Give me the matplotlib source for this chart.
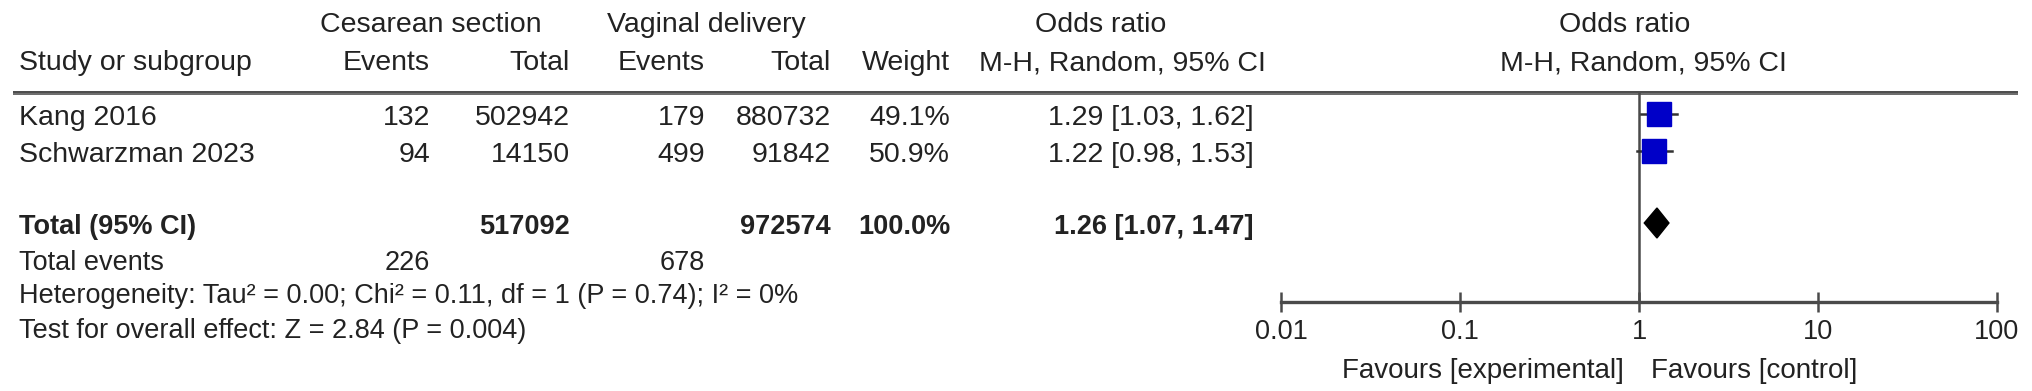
import matplotlib
matplotlib.use("Agg")
import matplotlib.pyplot as plt

# ---------------- data ----------------
studies = ["Kang 2016", "Schwarzman 2023"]
cs_events = [132, 94]
cs_total = [502942, 14150]
vd_events = [179, 499]
vd_total = [880732, 91842]
weights = [49.1, 50.9]
or_est = [1.29, 1.22]
or_lo = [1.03, 0.98]
or_hi = [1.62, 1.53]

total_cs = 517092
total_vd = 972574
total_weight = 100.0
pooled_est, pooled_lo, pooled_hi = 1.26, 1.07, 1.47
total_events_cs = 226
total_events_vd = 678
het_text = "Heterogeneity: Tau\u00b2 = 0.00; Chi\u00b2 = 0.11, df = 1 (P = 0.74); I\u00b2 = 0%"
test_text = "Test for overall effect: Z = 2.84 (P = 0.004)"

tick_values = [0.01, 0.1, 1, 10, 100]
tick_labels = ["0.01", "0.1", "1", "10", "100"]
favours_left = "Favours [experimental]"
favours_right = "Favours [control]"

# ---------------- layout ----------------
W, H = 2032, 391
plt.rcParams['font.family'] = ['Liberation Sans', 'DejaVu Sans']
TXT = '#222222'
LINE = '#4a4a4a'
FS = 20.5
FS_B = 19.5

fig = plt.figure(figsize=(W / 100, H / 100), dpi=100)
ax = fig.add_axes([0, 0, 1, 1])
ax.set_xlim(0, W)
ax.set_ylim(H, 0)
ax.axis('off')

def t(x, y, s, ha='left', size=FS, weight='normal'):
    ax.text(x, y, s, ha=ha, va='center', fontsize=size, color=TXT, fontweight=weight)

# column right edges
x_cse, x_cst, x_vde, x_vdt, x_w, x_or = 430, 570, 705, 831, 950, 1254
x_left = 19

# headers
y_h1, y_h2 = 25, 63
t(431, y_h1, "Cesarean section", ha='center')
t(706, y_h1, "Vaginal delivery", ha='center')
t(1101, y_h1, "Odds ratio", ha='center')
t(1625, y_h1, "Odds ratio", ha='center')
t(x_left, y_h2, "Study or subgroup")
t(x_cse, y_h2, "Events", ha='right')
t(x_cst, y_h2, "Total", ha='right')
t(x_vde, y_h2, "Events", ha='right')
t(x_vdt, y_h2, "Total", ha='right')
t(x_w, y_h2, "Weight", ha='right')
t(1122, y_h2, "M-H, Random, 95% CI", ha='center')
t(1643, y_h2, "M-H, Random, 95% CI", ha='center')

# header rule (double rule look)
y_line = 93
ax.plot([13, 2018], [y_line - 1, y_line - 1], color=LINE, lw=1.4, solid_capstyle='butt')
ax.plot([13, 2018], [y_line + 1.2, y_line + 1.2], color='#6a6a6a', lw=1.4, solid_capstyle='butt')

# study rows
row_y = [118, 155]
for i, yy in enumerate(row_y):
    t(x_left, yy, studies[i])
    t(x_cse, yy, f"{cs_events[i]}", ha='right')
    t(x_cst, yy, f"{cs_total[i]}", ha='right')
    t(x_vde, yy, f"{vd_events[i]}", ha='right')
    t(x_vdt, yy, f"{vd_total[i]}", ha='right')
    t(x_w, yy, f"{weights[i]:.1f}%", ha='right')
    t(x_or, yy, f"{or_est[i]:.2f} [{or_lo[i]:.2f}, {or_hi[i]:.2f}]", ha='right')

# total rows
y_tot, y_te, y_het, y_test = 227, 263, 296, 331
t(x_left, y_tot, "Total (95% CI)", size=FS_B, weight='bold')
t(x_cst, y_tot, f"{total_cs}", ha='right', size=FS_B, weight='bold')
t(x_vdt, y_tot, f"{total_vd}", ha='right', size=FS_B, weight='bold')
t(x_w, y_tot, f"{total_weight:.1f}%", ha='right', size=FS_B, weight='bold')
t(x_or, y_tot, f"{pooled_est:.2f} [{pooled_lo:.2f}, {pooled_hi:.2f}]", ha='right', size=FS_B, weight='bold')
t(x_left, y_te, "Total events", size=FS_B)
t(x_cse, y_te, f"{total_events_cs}", ha='right', size=FS_B)
t(x_vde, y_te, f"{total_events_vd}", ha='right', size=FS_B)
t(x_left, y_het, het_text, size=FS_B)
t(x_left, y_test, test_text, size=FS_B)

# ---------------- forest axes ----------------
x0, x1 = 1281, 1997
y_axis = 302
fax = fig.add_axes([x0 / W, (H - y_axis) / H, (x1 - x0) / W, (y_axis - y_line) / H])
fax.set_xscale('log')
fax.set_xlim(tick_values[0], tick_values[-1])
fax.set_ylim(y_axis, y_line)
fax.patch.set_alpha(0)
for s in ['top', 'right', 'left']:
    fax.spines[s].set_visible(False)
fax.spines['bottom'].set_color(LINE)
fax.spines['bottom'].set_linewidth(2.4)
fax.set_yticks([])
fax.set_xticks(tick_values)
fax.set_xticklabels(tick_labels)
fax.minorticks_off()
fax.tick_params(axis='x', which='major', direction='inout', length=14.5, width=1.8,
                color=LINE, labelsize=19.5, labelcolor=TXT, pad=5)

# line of no effect
fax.axvline(1, color=LINE, lw=1.8)

# study squares and CIs
sq_scale = 3.32 * 0.72  # points per sqrt(weight)
for i, yy in enumerate(row_y):
    fax.plot([or_lo[i], or_hi[i]], [yy - 4, yy - 4], color='#333333', lw=1.8)
    fax.plot([or_est[i]], [yy - 4], marker='s', color='#0000c8', markeredgecolor='#0000c8',
             markersize=sq_scale * weights[i] ** 0.5, linestyle='none')

# pooled diamond
yd = y_tot - 4
half = 15
fax.fill([pooled_lo, pooled_est, pooled_hi, pooled_est],
         [yd, yd - half, yd, yd + half], color='black')

# favours labels
ax.text(1624, 371, favours_left, ha='right', va='center', fontsize=20, color=TXT)
ax.text(1651, 371, favours_right, ha='left', va='center', fontsize=20, color=TXT)

fig.savefig("out.png", dpi=100)
